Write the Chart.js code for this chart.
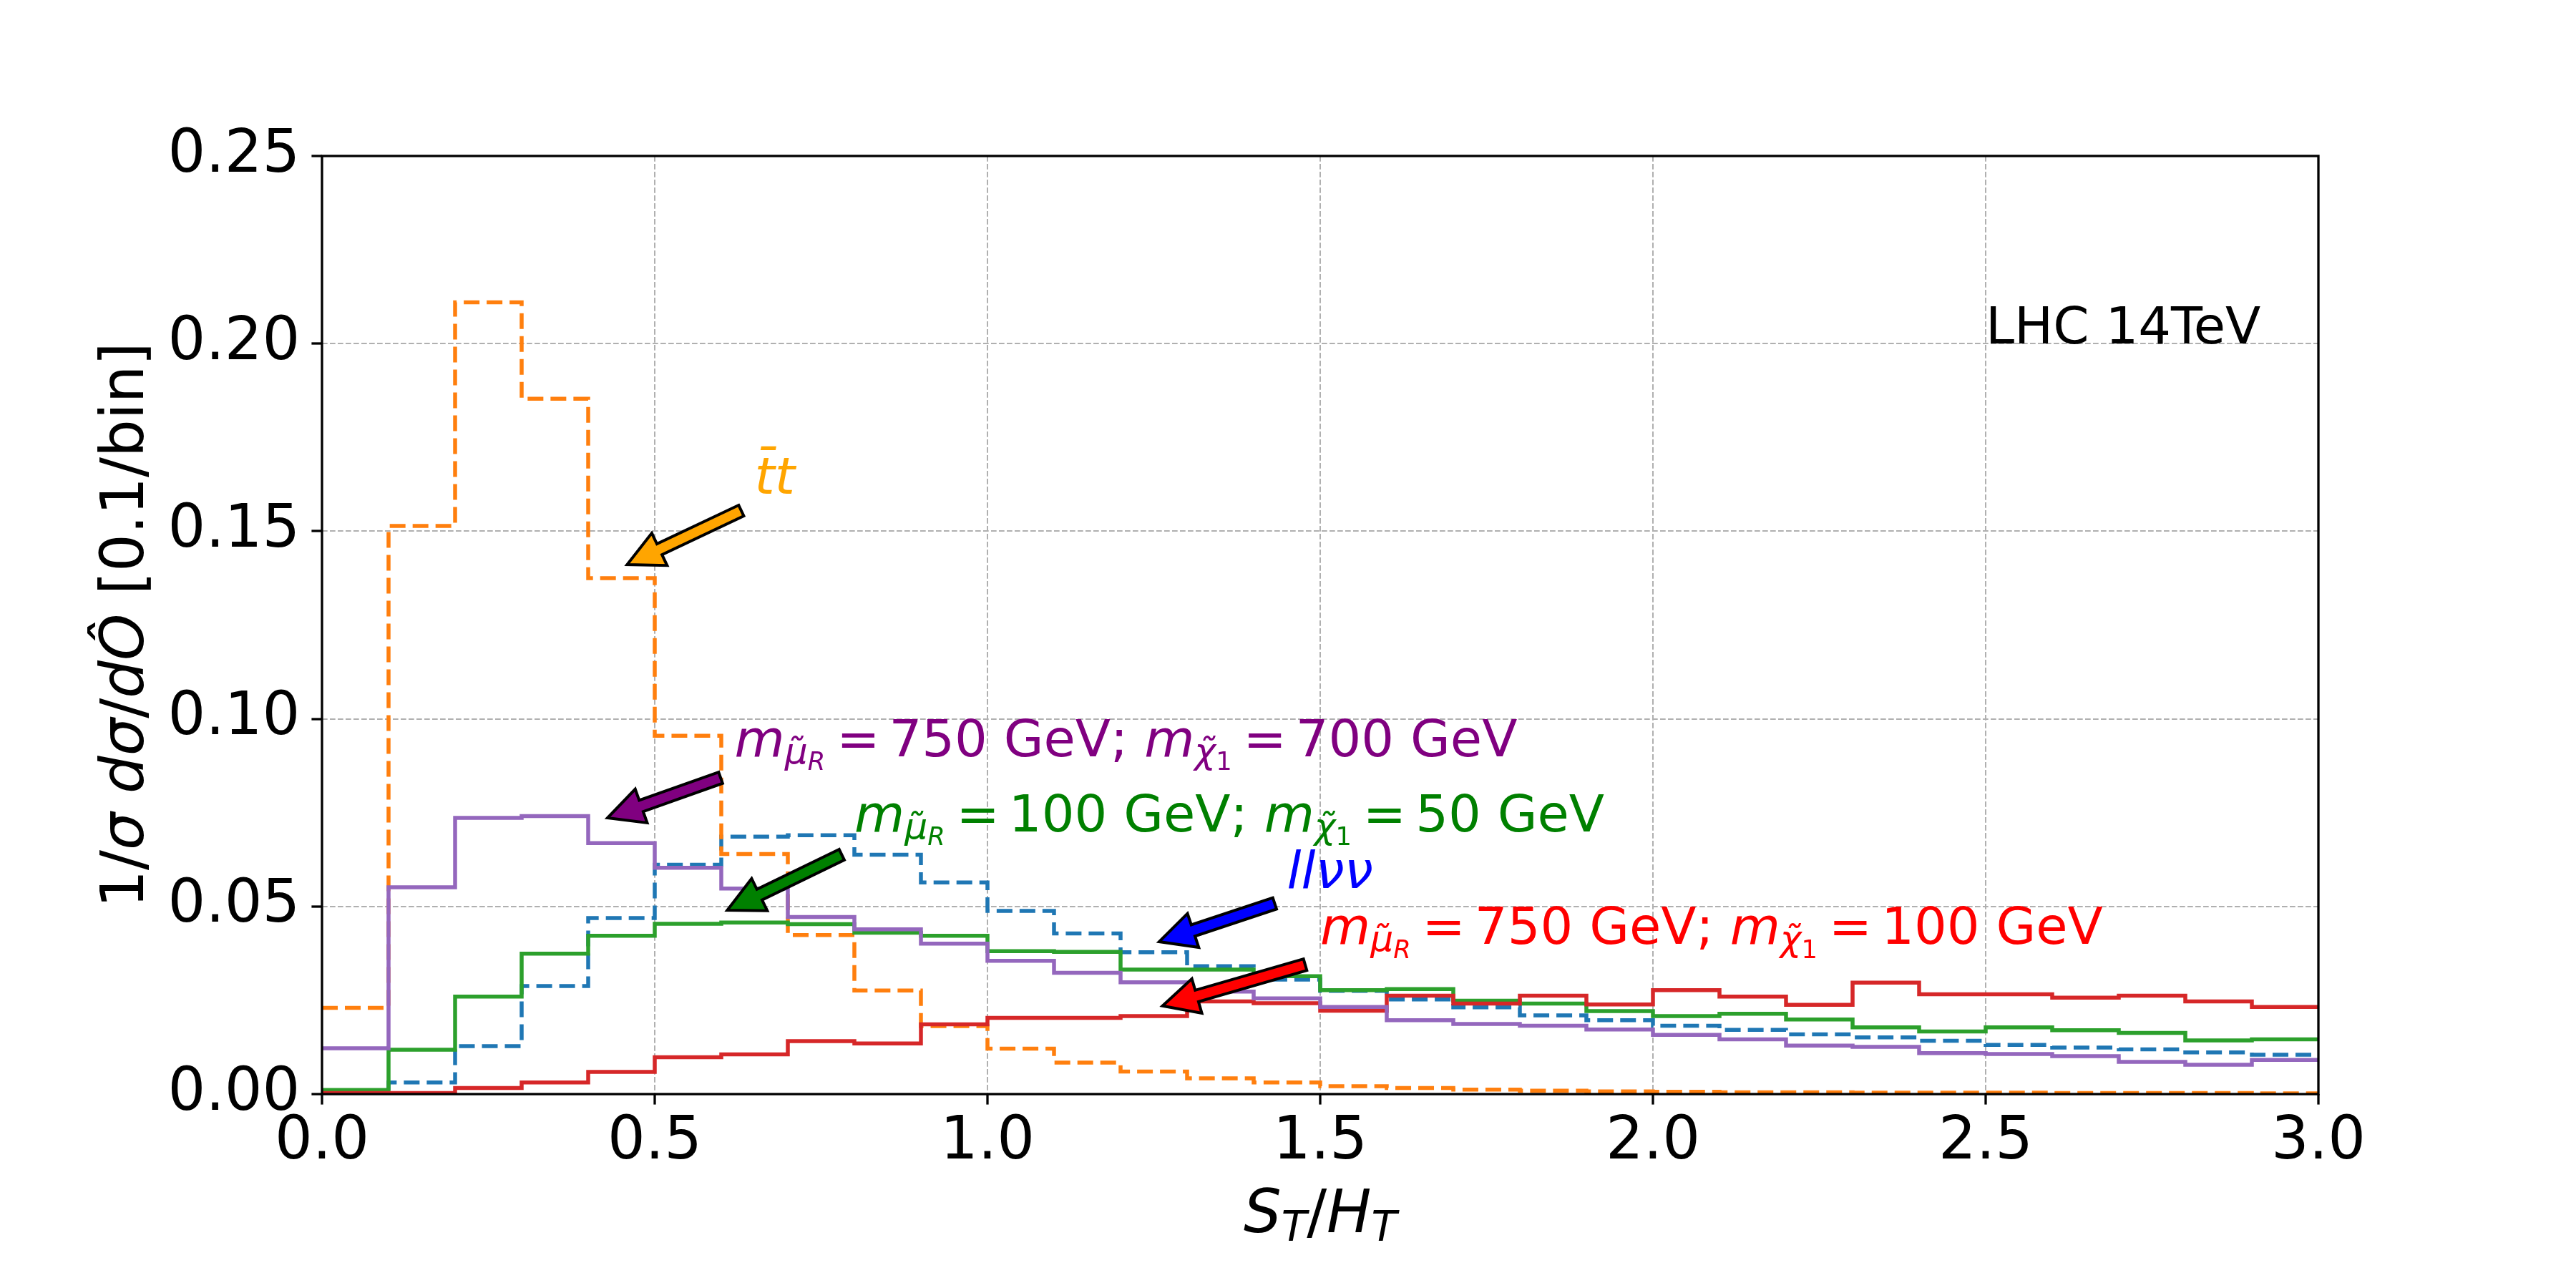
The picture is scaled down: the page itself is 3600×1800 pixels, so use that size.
<!DOCTYPE html>
<html lang="en">
<head>
  <meta charset="UTF-8">
  <title>S_T/H_T</title>
  <script src="https://cdn.jsdelivr.net/npm/chart.js"></script>
  <style>
    html, body { margin: 0; padding: 0; background: #fff; }
    #wrap { width: 3600px; height: 1800px; }
  </style>
</head>
<body>
  <div id="wrap"><canvas id="grafico"></canvas></div>

  <script>
    // bin edges of the histogram (0.1 wide bins)
    const binEdges = [0.0, 0.1, 0.2, 0.3, 0.4, 0.5, 0.6, 0.7, 0.8, 0.9, 1.0, 1.1, 1.2, 1.3, 1.4, 1.5,
      1.6, 1.7, 1.8, 1.9, 2.0, 2.1, 2.2, 2.3, 2.4, 2.5, 2.6, 2.7, 2.8, 2.9, 3.0];

    // normalised bin contents, one value per bin
    const llvv = [0.0005, 0.0031, 0.0128, 0.0288, 0.0469, 0.0611, 0.0686, 0.0690, 0.0638, 0.0564,
      0.0488, 0.0428, 0.0378, 0.0341, 0.0305, 0.0275, 0.0252, 0.0231, 0.0210, 0.0197,
      0.0182, 0.0171, 0.0159, 0.0151, 0.0142, 0.0131, 0.0124, 0.0119, 0.0111, 0.0105];
    const ttbar = [0.0230, 0.1514, 0.2110, 0.1853, 0.1375, 0.0955, 0.0640, 0.0424, 0.0276, 0.0181,
      0.0121, 0.0084, 0.0060, 0.0042, 0.0031, 0.0021, 0.0016, 0.0012, 0.0009, 0.0007,
      0.0006, 0.0005, 0.0005, 0.0004, 0.0004, 0.0004, 0.0003, 0.0003, 0.0003, 0.0002];
    const smu100chi50 = [0.0011, 0.0118, 0.0260, 0.0374, 0.0422, 0.0454, 0.0457, 0.0453, 0.0430, 0.0422,
      0.0381, 0.0379, 0.0332, 0.0332, 0.0314, 0.0277, 0.0280, 0.0249, 0.0241, 0.0221,
      0.0208, 0.0214, 0.0199, 0.0178, 0.0167, 0.0178, 0.0170, 0.0163, 0.0143, 0.0146];
    const smu750chi100 = [0.0003, 0.0003, 0.0016, 0.0031, 0.0059, 0.0098, 0.0106, 0.0141, 0.0135, 0.0186,
      0.0203, 0.0203, 0.0208, 0.0247, 0.0242, 0.0222, 0.0262, 0.0241, 0.0262, 0.0239,
      0.0277, 0.0260, 0.0238, 0.0297, 0.0266, 0.0266, 0.0257, 0.0262, 0.0247, 0.0232];
    const smu750chi700 = [0.0122, 0.0551, 0.0736, 0.0741, 0.0669, 0.0603, 0.0548, 0.0472, 0.0439, 0.0401,
      0.0355, 0.0323, 0.0298, 0.0273, 0.0255, 0.0232, 0.0197, 0.0187, 0.0182, 0.0172,
      0.0158, 0.0146, 0.0129, 0.0126, 0.0109, 0.0107, 0.0101, 0.0086, 0.0078, 0.0091];

    const xTickValues = [0.0, 0.5, 1.0, 1.5, 2.0, 2.5, 3.0];
    const yTickValues = [0.00, 0.05, 0.10, 0.15, 0.20, 0.25];

    const FONT = '"DejaVu Sans"';

    // texto con subindices (estilo mathtext)
    function masas(mSmu, mChi) {
      return [
        { s: 'm', it: true }, { s: 'μ\u0303', it: true, sc: 0.7, dy: 0.14 }, { s: 'R', it: true, sc: 0.49, dy: 0.27 },
        { s: '=', pre: 0.22, post: 0.18 }, { s: mSmu + ' GeV; ' },
        { s: 'm', it: true }, { s: 'χ\u0303', it: true, sc: 0.7, dy: 0.14 }, { s: '1', sc: 0.49, dy: 0.27 },
        { s: '=', pre: 0.22, post: 0.18 }, { s: mChi + ' GeV' }
      ];
    }
    const labPurple = masas('750', '700');
    const labGreen = masas('100', '50');
    const labRed = masas('750', '100');
    const labBlue = [{ s: 'llνν', it: true }];
    const labTT = [{ s: 't\u0304t', it: true }];
    const labX = [
      { s: 'S', it: true }, { s: 'T', it: true, sc: 0.7, dy: 0.14 }, { s: '/' },
      { s: 'H', it: true }, { s: 'T', it: true, sc: 0.7, dy: 0.14 }
    ];
    const labY = [
      { s: '1/' }, { s: 'σ', it: true }, { s: ' ' }, { s: 'd', it: true }, { s: 'σ', it: true },
      { s: '/' }, { s: 'd', it: true }, { s: 'Ô', it: true }, { s: ' [0.1/bin]' }
    ];

    // anotaciones: texto (x, y en datos) y flecha (cola -> punta)
    const notas = [
      { runs: labTT, x: 0.65, y: 0.16, color: '#FFA500', tail: [0.630, 0.1555], tip: [0.4585, 0.1411] },
      { runs: labPurple, x: 0.62, y: 0.09, color: '#800080', tail: [0.599, 0.0843], tip: [0.429, 0.0736] },
      { runs: labGreen, x: 0.80, y: 0.07, color: '#008000', tail: [0.781, 0.0638], tip: [0.609, 0.0490] },
      { runs: labBlue, x: 1.45, y: 0.055, color: '#0000FF', tail: [1.4316, 0.0508], tip: [1.258, 0.0406] },
      { runs: labRed, x: 1.50, y: 0.04, color: '#FF0000', tail: [1.4774, 0.0345], tip: [1.263, 0.0235] }
    ];

    function fontFor(r, size) {
      return (r.it ? 'italic ' : '') + (size * (r.sc || 1)) + 'px ' + FONT;
    }

    function runWidth(ctx, r, size) {
      ctx.font = fontFor(r, size);
      return ctx.measureText(r.s).width + ((r.pre || 0) + (r.post || 0)) * size;
    }

    function mathText(ctx, runs, x, y, size, color, align) {
      ctx.save();
      ctx.fillStyle = color;
      ctx.textBaseline = 'alphabetic';
      ctx.textAlign = 'left';
      let w = 0;
      runs.forEach(r => { w += runWidth(ctx, r, size); });
      let cx = align === 'center' ? x - w / 2 : x;
      runs.forEach(r => {
        const ancho = runWidth(ctx, r, size);
        ctx.font = fontFor(r, size);
        ctx.fillText(r.s, cx + (r.pre || 0) * size, y + (r.dy || 0) * size);
        cx += ancho;
      });
      ctx.restore();
    }

    function drawArrow(ctx, x1, y1, x2, y2, color) {
      const dx = x2 - x1, dy = y2 - y1, L = Math.hypot(dx, dy);
      const ux = dx / L, uy = dy / L, nx = -uy, ny = ux;
      const w = 8.3, hw = 25, hl = 50;
      const bx = x2 - ux * hl, by = y2 - uy * hl;
      ctx.save();
      ctx.beginPath();
      ctx.moveTo(x1 + nx * w, y1 + ny * w);
      ctx.lineTo(bx + nx * w, by + ny * w);
      ctx.lineTo(bx + nx * hw, by + ny * hw);
      ctx.lineTo(x2, y2);
      ctx.lineTo(bx - nx * hw, by - ny * hw);
      ctx.lineTo(bx - nx * w, by - ny * w);
      ctx.lineTo(x1 - nx * w, y1 - ny * w);
      ctx.closePath();
      ctx.fillStyle = color;
      ctx.fill();
      ctx.lineWidth = 4;
      ctx.lineJoin = 'miter';
      ctx.strokeStyle = '#000';
      ctx.stroke();
      ctx.restore();
    }

    // marco negro de los ejes
    const marco = {
      id: 'marco',
      afterDatasetsDraw(chart) {
        const { ctx, chartArea: a } = chart;
        ctx.save();
        ctx.strokeStyle = '#000';
        ctx.lineWidth = 3.3;
        ctx.strokeRect(a.left, a.top, a.right - a.left, a.bottom - a.top);
        ctx.restore();
      }
    };

    const textos = {
      id: 'textos',
      afterDraw(chart) {
        const { ctx, chartArea: a } = chart;
        const sx = chart.scales.x, sy = chart.scales.y;
        notas.forEach(n => {
          drawArrow(ctx, sx.getPixelForValue(n.tail[0]), sy.getPixelForValue(n.tail[1]),
            sx.getPixelForValue(n.tip[0]), sy.getPixelForValue(n.tip[1]), n.color);
          mathText(ctx, n.runs, sx.getPixelForValue(n.x), sy.getPixelForValue(n.y), 72, n.color, 'left');
        });
        mathText(ctx, [{ s: 'LHC 14TeV' }], sx.getPixelForValue(2.5), sy.getPixelForValue(0.2), 72, '#000', 'left');
        // etiquetas de ejes
        mathText(ctx, labX, (a.left + a.right) / 2, a.bottom + 193, 83, '#000', 'center');
        ctx.save();
        ctx.translate(200, (a.top + a.bottom) / 2);
        ctx.rotate(-Math.PI / 2);
        mathText(ctx, labY, 0, 0, 83, '#000', 'center');
        ctx.restore();
      }
    };

    function stepPoints(values) {
      return binEdges.map((x, i) => ({ x: x, y: values[Math.min(i, values.length - 1)] }));
    }

    const lw = 5.5;
    const guion = [22, 10];

    const grafico = new Chart(document.getElementById('grafico'), {
      type: 'line',
      data: {
        datasets: [
          { label: 'llvv', data: stepPoints(llvv), borderColor: '#1f77b4', borderDash: guion, order: 5 },
          { label: 'ttbar', data: stepPoints(ttbar), borderColor: '#ff7f0e', borderDash: guion, order: 4 },
          { label: '100/50', data: stepPoints(smu100chi50), borderColor: '#2ca02c', order: 3 },
          { label: '750/100', data: stepPoints(smu750chi100), borderColor: '#d62728', order: 2 },
          { label: '750/700', data: stepPoints(smu750chi700), borderColor: '#9467bd', order: 1 }
        ]
      },
      options: {
        responsive: true,
        maintainAspectRatio: false,
        animation: false,
        events: [],
        datasets: {
          line: { stepped: 'before', borderWidth: lw, pointRadius: 0, fill: false, tension: 0 }
        },
        layout: { padding: { left: 0, top: 218, right: 360, bottom: 0 } },
        plugins: { legend: { display: false }, tooltip: { enabled: false } },
        scales: {
          x: {
            type: 'linear', min: 0, max: 3,
            afterBuildTicks: s => { s.ticks = xTickValues.map(v => ({ value: v })); },
            afterFit: s => { s.height = 271; },
            ticks: {
              callback: v => v.toFixed(1), color: '#000', padding: 4, maxRotation: 0,
              font: { family: 'DejaVu Sans', size: 83 }
            },
            grid: { color: '#b0b0b0', lineWidth: 2, tickColor: '#000', tickWidth: 3.3, tickLength: 14.6 },
            border: { display: false, dash: [7.7, 3.3] }
          },
          y: {
            type: 'linear', min: 0, max: 0.25,
            afterBuildTicks: s => { s.ticks = yTickValues.map(v => ({ value: v })); },
            afterFit: s => { s.width = 450; },
            ticks: {
              callback: v => v.toFixed(2), color: '#000', padding: 16,
              font: { family: 'DejaVu Sans', size: 83 }
            },
            grid: { color: '#b0b0b0', lineWidth: 2, tickColor: '#000', tickWidth: 3.3, tickLength: 14.6 },
            border: { display: false, dash: [7.7, 3.3] }
          }
        }
      },
      plugins: [marco, textos]
    });
  </script>
</body>
</html>
